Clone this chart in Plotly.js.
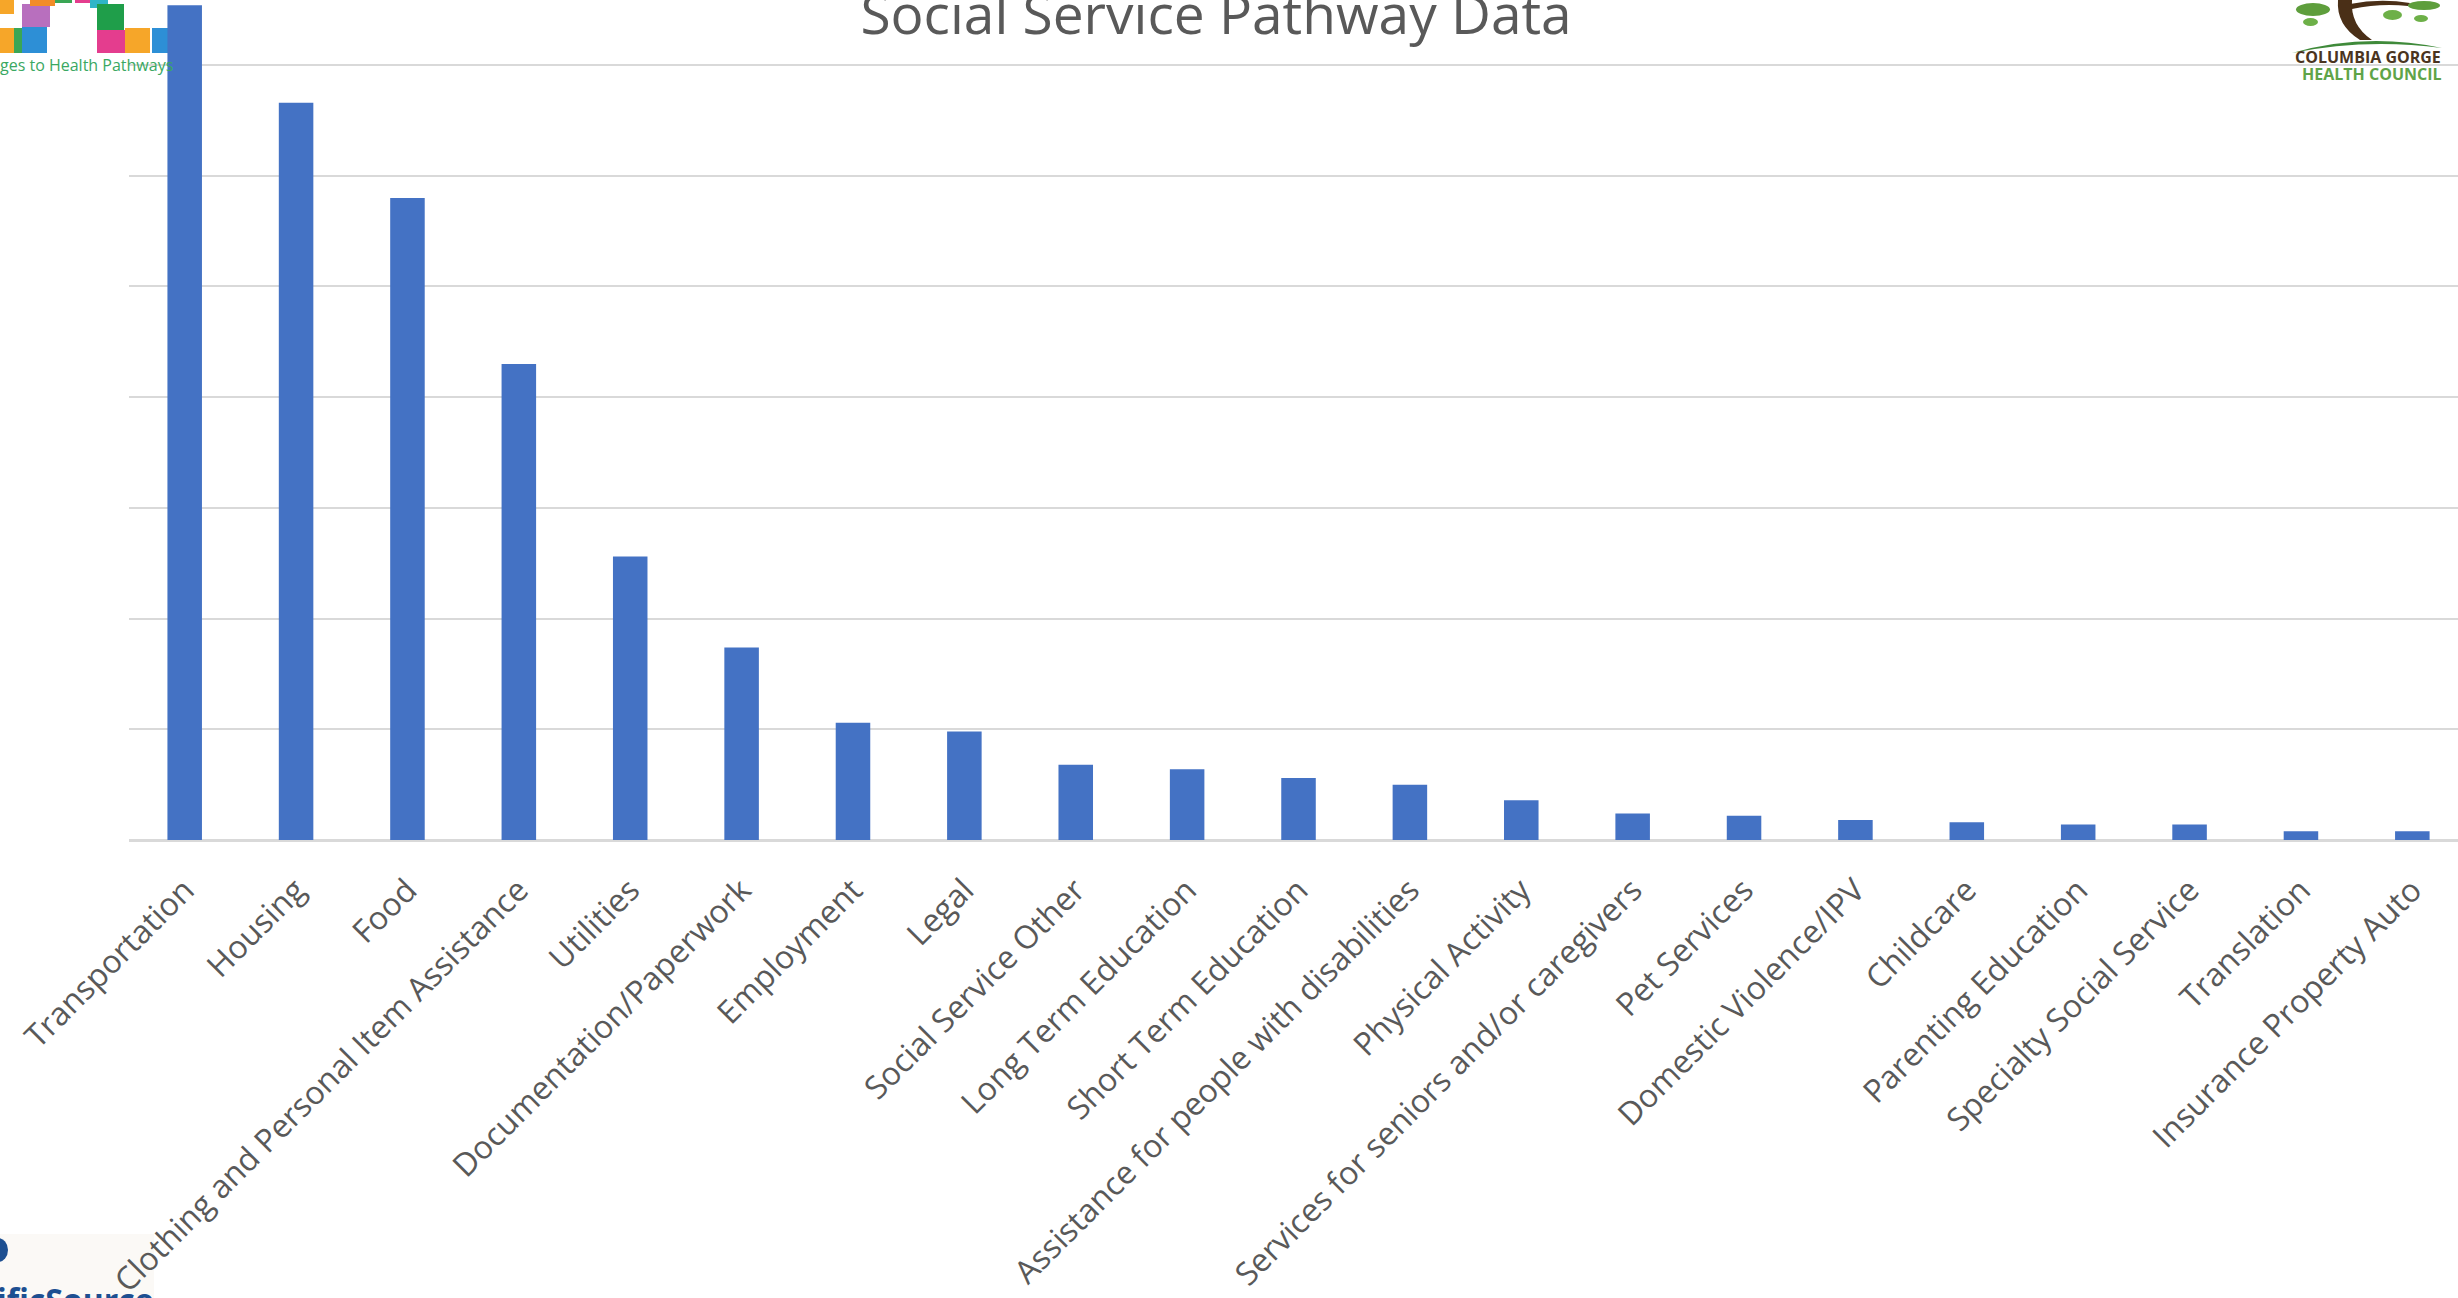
<!DOCTYPE html>
<html>
<head>
<meta charset="utf-8">
<script src="https://cdn.plot.ly/plotly-3.0.1.min.js"></script>
<style>
html,body{margin:0;padding:0;background:#fff;}
#chart{width:2458px;height:1298px;}
</style>
</head>
<body>
<div id="chart"></div>
<script>
// ---- data ----
const categories = [
  "Transportation", "Housing", "Food", "Clothing and Personal Item Assistance",
  "Utilities", "Documentation/Paperwork", "Employment", "Legal",
  "Social Service Other", "Long Term Education", "Short Term Education",
  "Assistance for people with disabilities", "Physical Activity",
  "Services for seniors and/or caregivers", "Pet Services",
  "Domestic Violence/IPV", "Childcare", "Parenting Education",
  "Specialty Social Service", "Translation", "Insurance Property Auto"
];
const pathwayCounts = [377, 333, 290, 215, 128, 87, 53, 49, 34, 32, 28, 25, 18, 12, 11, 9, 8, 7, 7, 4, 4];
const chartTitle = "Social Service Pathway Data";

// ---- layout helpers (pixel -> paper) for decorative logos ----
const W = 2458, H = 1298;
const M = {l: 129, r: 0, t: 0, b: 458};
const PW = W - M.l - M.r, PH = H - M.t - M.b;
const px = X => (X - M.l) / PW;
const py = Y => (H - M.b - Y) / PH;

function rect(x0, y0, x1, y1, color, layer) {
  return {type: 'rect', xref: 'paper', yref: 'paper', x0: px(x0), x1: px(x1), y0: py(y1), y1: py(y0),
          fillcolor: color, line: {width: 0}, layer: layer || 'below'};
}
function ellipse(x0, y0, x1, y1, color) {
  return {type: 'circle', xref: 'paper', yref: 'paper', x0: px(x0), x1: px(x1), y0: py(y1), y1: py(y0),
          fillcolor: color, line: {width: 0}, layer: 'above'};
}

const shapes = [
  // Bridges to Health Pathways puzzle arch (approximation)
  rect(0, 0, 14, 14, '#f6a629'),
  rect(22, 4, 50, 27, '#b86fbe'),
  rect(30, 0, 55, 6, '#f28c28'),
  rect(55, 0, 72, 3, '#3aa655'),
  rect(75, 0, 96, 3, '#e43d8e'),
  rect(90, 0, 108, 8, '#2fb5c8'),
  rect(97, 4, 124, 30, '#1f9e4a'),
  rect(0, 28, 14, 53, '#f6a629'),
  rect(14, 28, 22, 53, '#3aa655'),
  rect(22, 27, 47, 53, '#2d8fd6'),
  rect(97, 30, 125, 53, '#e43d8e'),
  rect(125, 28, 150, 53, '#f6a629'),
  rect(152, 28, 172, 53, '#2d8fd6'),
  {type: 'path', xref: 'paper', yref: 'paper', layer: 'below', fillcolor: '#ffffff', line: {width: 0},
   path: `M ${px(50)} ${py(53)} L ${px(50)} ${py(20)} Q ${px(73)} ${py(-12)} ${px(97)} ${py(20)} L ${px(97)} ${py(53)} Z`},
  // Columbia Gorge Health Council tree (approximation)
  {type: 'path', xref: 'paper', yref: 'paper', layer: 'above', fillcolor: '#4a2f17', line: {width: 0},
   path: `M ${px(2338)} ${py(0)} L ${px(2352)} ${py(0)} Q ${px(2350)} ${py(25)} ${px(2372)} ${py(40)} L ${px(2360)} ${py(40)} Q ${px(2336)} ${py(25)} ${px(2338)} ${py(0)} Z`},
  {type: 'path', xref: 'paper', yref: 'paper', layer: 'above', fillcolor: '#4a2f17', line: {width: 0},
   path: `M ${px(2350)} ${py(4)} Q ${px(2380)} ${py(-2)} ${px(2410)} ${py(3)} L ${px(2408)} ${py(6)} Q ${px(2380)} ${py(3)} ${px(2352)} ${py(9)} Z`},
  ellipse(2296, 3, 2330, 16, '#5e9e3c'),
  ellipse(2303, 18, 2318, 26, '#6db048'),
  ellipse(2383, 10, 2402, 20, '#6db048'),
  ellipse(2408, 1, 2440, 10, '#5e9e3c'),
  ellipse(2414, 15, 2428, 22, '#6db048'),
  {type: 'path', xref: 'paper', yref: 'paper', layer: 'above', fillcolor: '#3f8a3a', line: {width: 0},
   path: `M ${px(2292)} ${py(53)} Q ${px(2365)} ${py(32)} ${px(2442)} ${py(48)} Q ${px(2365)} ${py(38)} ${px(2292)} ${py(53)} Z`},
  // PacificSource logo background
  rect(0, 1234, 154, 1298, '#fbf9f6'),
  ellipse(-12, 1238, 8, 1262, '#1d4f91')
];

const annotations = [
  {xref: 'paper', yref: 'paper', x: px(-2), y: py(65), xanchor: 'left', yanchor: 'middle', showarrow: false,
   text: 'ges to Health Pathways', font: {family: 'Open Sans, sans-serif', size: 16, color: '#3aa862'}},
  {xref: 'paper', yref: 'paper', x: px(2368), y: py(57), xanchor: 'center', yanchor: 'middle', showarrow: false,
   text: '<b>COLUMBIA GORGE</b>', font: {family: 'Open Sans, sans-serif', size: 16, color: '#4a3420'}},
  {xref: 'paper', yref: 'paper', x: px(2372), y: py(74), xanchor: 'center', yanchor: 'middle', showarrow: false,
   text: '<b>HEALTH COUNCIL</b>', font: {family: 'Open Sans, sans-serif', size: 16, color: '#5fa448'}},
  {xref: 'paper', yref: 'paper', x: px(156), y: py(1276), xanchor: 'right', yanchor: 'top', showarrow: false,
   text: '<b>PacificSource</b>', font: {family: 'Open Sans, sans-serif', size: 32, color: '#1d4f91'}}
];

const trace = {
  type: 'bar',
  x: categories,
  y: pathwayCounts,
  marker: {color: '#4472C4'},
  hoverinfo: 'x+y'
};

const layout = {
  width: W, height: H,
  margin: M,
  paper_bgcolor: '#ffffff',
  plot_bgcolor: '#ffffff',
  showlegend: false,
  bargap: 0.69,
  title: {
    text: chartTitle,
    x: 1216 / W, xanchor: 'center', xref: 'container',
    y: 1 - 15 / H, yanchor: 'middle', yref: 'container',
    font: {family: 'Open Sans, sans-serif', size: 55, color: '#595959'}
  },
  xaxis: {
    type: 'category',
    range: [-0.5, 20.41],
    tickangle: -45,
    tickfont: {family: 'Open Sans, sans-serif', size: 32, color: '#595959'},
    ticklabelstandoff: 24,
    showgrid: false,
    showline: false,
    ticks: '',
    automargin: false
  },
  yaxis: {
    range: [0, 379.4],
    dtick: 50,
    showticklabels: false,
    showgrid: true,
    gridcolor: '#d9d9d9',
    gridwidth: 2,
    zeroline: true,
    zerolinecolor: '#d9d9d9',
    zerolinewidth: 3,
    ticks: '',
    automargin: false
  },
  shapes: shapes,
  annotations: annotations
};

Plotly.newPlot('chart', [trace], layout, {displayModeBar: false, staticPlot: true});
</script>
</body>
</html>
